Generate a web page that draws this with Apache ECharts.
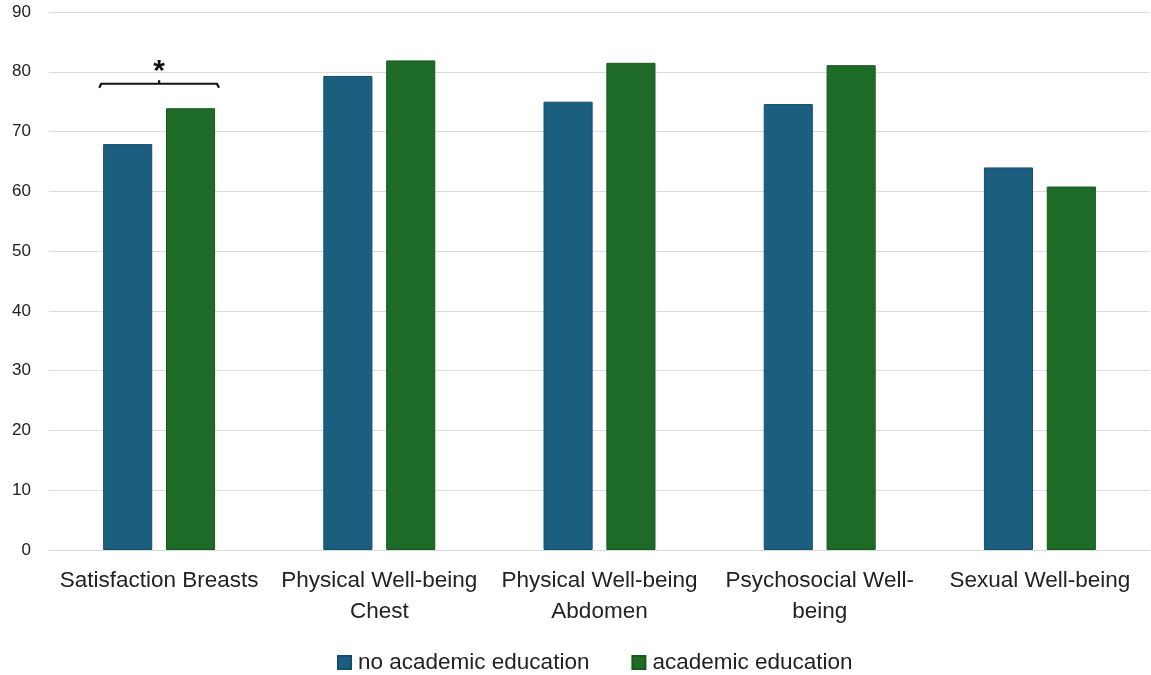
<!DOCTYPE html>
<html>
<head>
<meta charset="utf-8">
<script src="https://cdn.jsdelivr.net/npm/echarts@6/dist/echarts.min.js"></script>
<style>
  html, body { margin: 0; padding: 0; background: #fff; }
  #chart { width: 1151px; height: 675px; }
</style>
</head>
<body>
<div id="chart"></div>
<script>
// Domain scores by education level
const categories = [
  'Satisfaction Breasts',
  'Physical Well-being\nChest',
  'Physical Well-being\nAbdomen',
  'Psychosocial Well-\nbeing',
  'Sexual Well-being'
];
const noAcademic = [67.9, 79.3, 75.0, 74.6, 64.0];
const academic = [73.9, 81.9, 81.5, 81.1, 60.8];
const seriesNames = ['no academic education', 'academic education'];
// significance marker: category index and bracket height
const significance = [[0, 78.0]];

const FONT = '"Liberation Sans", Arial, sans-serif';
const chart = echarts.init(document.getElementById('chart'));

chart.setOption({
  animation: false,
  grid: { left: 49, right: 1, top: 12, bottom: 125 },
  legend: {
    top: 651,
    left: 337,
    padding: 0,
    itemWidth: 13,
    itemHeight: 13,
    itemGap: 42,
    icon: 'rect',
    textStyle: { fontFamily: FONT, fontSize: 22.5, color: '#222', padding: [0, 0, 0, 2] },
    data: seriesNames
  },
  xAxis: {
    type: 'category',
    data: categories,
    axisLine: { show: true, lineStyle: { color: '#d9d9d9' } },
    axisTick: { show: false },
    axisLabel: {
      interval: 0,
      margin: 15,
      fontFamily: FONT,
      fontSize: 22.5,
      lineHeight: 31,
      color: '#222'
    }
  },
  yAxis: {
    type: 'value',
    min: 0,
    max: 90,
    interval: 10,
    axisLine: { show: false },
    axisTick: { show: false },
    splitLine: { lineStyle: { color: '#dcdcdc', width: 1 } },
    axisLabel: { fontFamily: FONT, fontSize: 17, color: '#222', margin: 18 }
  },
  series: [
    {
      name: seriesNames[0],
      type: 'bar',
      data: noAcademic,
      barWidth: '22.3%',
      barGap: '28%',
      itemStyle: { color: '#1b5e80', borderColor: '#134f6c', borderWidth: 1 }
    },
    {
      name: seriesNames[1],
      type: 'bar',
      data: academic,
      barWidth: '22.3%',
      itemStyle: { color: '#1d6b27', borderColor: '#145a1c', borderWidth: 1 }
    },
    {
      // bracket and asterisk above the significant comparison
      type: 'custom',
      silent: true,
      z: 5,
      data: significance,
      renderItem: function (params, api) {
        const p = api.coord([api.value(0), api.value(1)]);
        const band = api.size([1, 0])[0];
        const half = band * 0.272;
        const x0 = p[0] - half, x1 = p[0] + half, y = p[1];
        return {
          type: 'group',
          children: [
            {
              type: 'polyline',
              shape: { points: [[x0, y + 4], [x0 + 2, y], [x1 - 2, y], [x1, y + 4]] },
              style: { stroke: '#111', lineWidth: 2.2, fill: null }
            },
            {
              type: 'line',
              shape: { x1: p[0], y1: y, x2: p[0], y2: y - 3.5 },
              style: { stroke: '#111', lineWidth: 2.2 }
            },
            {
              type: 'text',
              style: {
                text: '*',
                x: p[0],
                y: y - 12,
                align: 'center',
                verticalAlign: 'middle',
                fontFamily: FONT,
                fontSize: 30,
                fontWeight: 'bold',
                fill: '#111'
              }
            }
          ]
        };
      }
    }
  ]
});
</script>
</body>
</html>
